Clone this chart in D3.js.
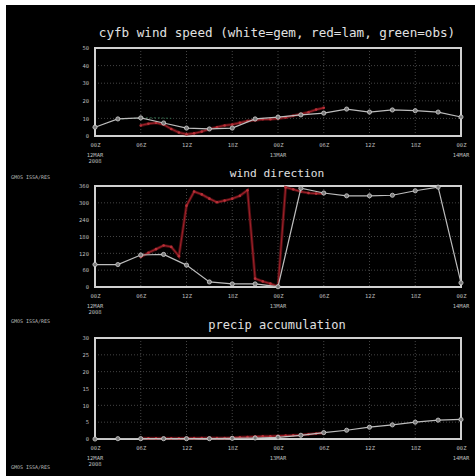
<!DOCTYPE html>
<html><head><meta charset="utf-8">
<script src="https://cdn.jsdelivr.net/npm/d3@7"></script>
<style>body{margin:0;background:#fff;}svg{display:block;}</style>
</head><body>
<script>
// ---- data ----
const gemHours = [0,3,6,9,12,15,18,21,24,27,30,33,36,39,42,45,48];
const lamHours = [6,7,8,9,10,11,12,13,14,15,16,17,18,19,20,21,22,23,24,25,26,27,28,29,30];
const obsHours = [3,4,5,6,7,8,9,10];

const gemSpeed = [5,9.7,10.3,7.4,4.5,4,4.5,9.7,10.7,12,13,15.3,13.6,14.8,14.4,13.6,10.8];
const lamSpeed = [6,7,7.5,6.5,4,2,1,1.5,2.5,4,5,6,6.5,7.5,8.5,9,9.5,9.5,10,10.5,11.5,12.5,13.5,15,16];
const obsSpeed = [9.6,9.8,10,10.2,10.3,10.3,10.2,10];

const gemDir = [80,80,114,116,78,18,11,11,1,352,335,325,325,327,343,356,15];
const lamDir = [107,122,135,148,143,110,290,340,330,315,302,308,315,325,345,30,20,12,2,355,348,340,335,333,333];

const gemPrecip = [0,0.1,0.1,0.1,0.1,0.1,0.2,0.3,0.5,1.1,1.9,2.6,3.5,4.2,5.0,5.6,5.8];
const lamPrecip = [0.2,0.2,0.2,0.2,0.2,0.2,0.25,0.25,0.3,0.3,0.3,0.3,0.4,0.5,0.6,0.7,0.8,0.8,0.9,1.0,1.1,1.2,1.4,1.6,1.8];

const xTickHours = [0,6,12,18,24,30,36,42,48];
const xTickLabels = ["00Z","06Z","12Z","18Z","00Z","06Z","12Z","18Z","00Z"];
const xTickDates = {0:["12MAR","2008"],24:["13MAR"],48:["14MAR"]};

const speedTicks = [0,10,20,30,40,50];
const dirTicks = [0,60,120,180,240,300,360];
const precipTicks = [0,5,10,15,20,25,30];

const titles = ["cyfb wind speed (white=gem, red=lam, green=obs)","wind direction","precip accumulation"];
const sideLabel = "GMOS ISSA/RES";

// ---- drawing ----
const W=475,H=476;
const svg=d3.select("body").append("svg").attr("width",W).attr("height",H);
svg.append("rect").attr("x",6).attr("y",5).attr("width",W-6).attr("height",H-5).attr("fill","#000");

const x=d3.scaleLinear().domain([0,48]).range([95,461]);
const font="DejaVu Sans Mono, monospace";

const panels=[
 {top:48,bottom:136,ticks:speedTicks,dom:[0,50],gem:gemSpeed,lam:lamSpeed,obs:obsSpeed,title:titles[0],ty:37,tfs:12.6,side:null},
 {top:186,bottom:287,ticks:dirTicks,dom:[0,360],gem:gemDir,lam:lamDir,obs:null,title:titles[1],ty:177,tfs:11.2,side:179},
 {top:338,bottom:439,ticks:precipTicks,dom:[0,30],gem:gemPrecip,lam:lamPrecip,obs:null,title:titles[2],ty:329,tfs:12,side:323}
];

panels.forEach((p,i)=>{
  const y=d3.scaleLinear().domain(p.dom).range([p.bottom,p.top]);
  const g=svg.append("g");
  // title
  g.append("text").attr("x",277).attr("y",p.ty).attr("text-anchor","middle")
   .attr("font-family",font).attr("font-size",p.tfs).attr("fill","#e0e0e0").text(p.title);
  if(p.side!==null){
    g.append("text").attr("x",11).attr("y",p.side).attr("font-family",font).attr("font-size",5)
     .attr("fill","#bbb").text(sideLabel);
  }
  // grid
  const grid=g.append("g").attr("stroke","#555").attr("stroke-width",0.8).attr("stroke-dasharray","1,2");
  p.ticks.slice(1,-1).forEach(t=>grid.append("line").attr("x1",x(0)).attr("x2",x(48)).attr("y1",y(t)).attr("y2",y(t)));
  xTickHours.slice(1,-1).forEach(h=>grid.append("line").attr("x1",x(h)).attr("x2",x(h)).attr("y1",p.top).attr("y2",p.bottom));
  // axes (labels only)
  const ya=d3.axisLeft(y).tickValues(p.ticks).tickSize(0).tickPadding(6);
  const yg=g.append("g").attr("transform",`translate(${x(0)},0)`).call(ya);
  yg.select(".domain").remove();
  yg.selectAll("text").attr("fill","#bbb").attr("font-family",font).attr("font-size",5.5);
  const xa=d3.axisBottom(x).tickValues(xTickHours).tickSize(0).tickPadding(7).tickFormat((d,j)=>xTickLabels[j]);
  const xg=g.append("g").attr("transform",`translate(0,${p.bottom})`).call(xa);
  xg.select(".domain").remove();
  xg.selectAll("text").attr("fill","#bbb").attr("font-family",font).attr("font-size",5.5);
  Object.keys(xTickDates).forEach(h=>{
    xTickDates[h].forEach((s,k)=>{
      g.append("text").attr("x",x(+h)).attr("y",p.bottom+21+k*6).attr("text-anchor","middle")
       .attr("font-family",font).attr("font-size",5.5).attr("fill","#bbb").text(s);
    });
  });
  // frame
  g.append("rect").attr("x",x(0)).attr("y",p.top).attr("width",x(48)-x(0)).attr("height",p.bottom-p.top)
   .attr("fill","none").attr("stroke","#d0d0d0").attr("stroke-width",2);

  const line=d3.line().x(d=>x(d[0])).y(d=>y(d[1]));
  const gem=gemHours.map((h,j)=>[h,p.gem[j]]);
  const lam=lamHours.map((h,j)=>[h,p.lam[j]]);
  // lam (red)
  g.append("path").attr("d",line(lam)).attr("fill","none").attr("stroke","#6e1218").attr("stroke-width",3).attr("opacity",0.7);
  g.append("path").attr("d",line(lam)).attr("fill","none").attr("stroke","#9a2028").attr("stroke-width",1.2);
  g.selectAll(".lm").data(lam).enter().append("circle").attr("cx",d=>x(d[0])).attr("cy",d=>y(d[1])).attr("r",1.3).attr("fill","#b83038");
  // obs (green)
  if(p.obs){
    const obs=obsHours.map((h,j)=>[h,p.obs[j]]);
    g.append("path").attr("d",line(obs)).attr("fill","none").attr("stroke","#2f6a4a").attr("stroke-width",1).attr("stroke-dasharray","2,2");
  }
  // gem (white)
  g.append("path").attr("d",line(gem)).attr("fill","none").attr("stroke","#bdbdbd").attr("stroke-width",1.2);
  g.selectAll(".gm").data(gem).enter().append("circle").attr("cx",d=>x(d[0])).attr("cy",d=>y(d[1])).attr("r",2.1)
   .attr("fill","#7a7a7a").attr("stroke","#cfcfcf").attr("stroke-width",0.8);
});
svg.append("text").attr("x",11).attr("y",469).attr("font-family",font).attr("font-size",5).attr("fill","#bbb").text(sideLabel);
</script>
</body></html>
